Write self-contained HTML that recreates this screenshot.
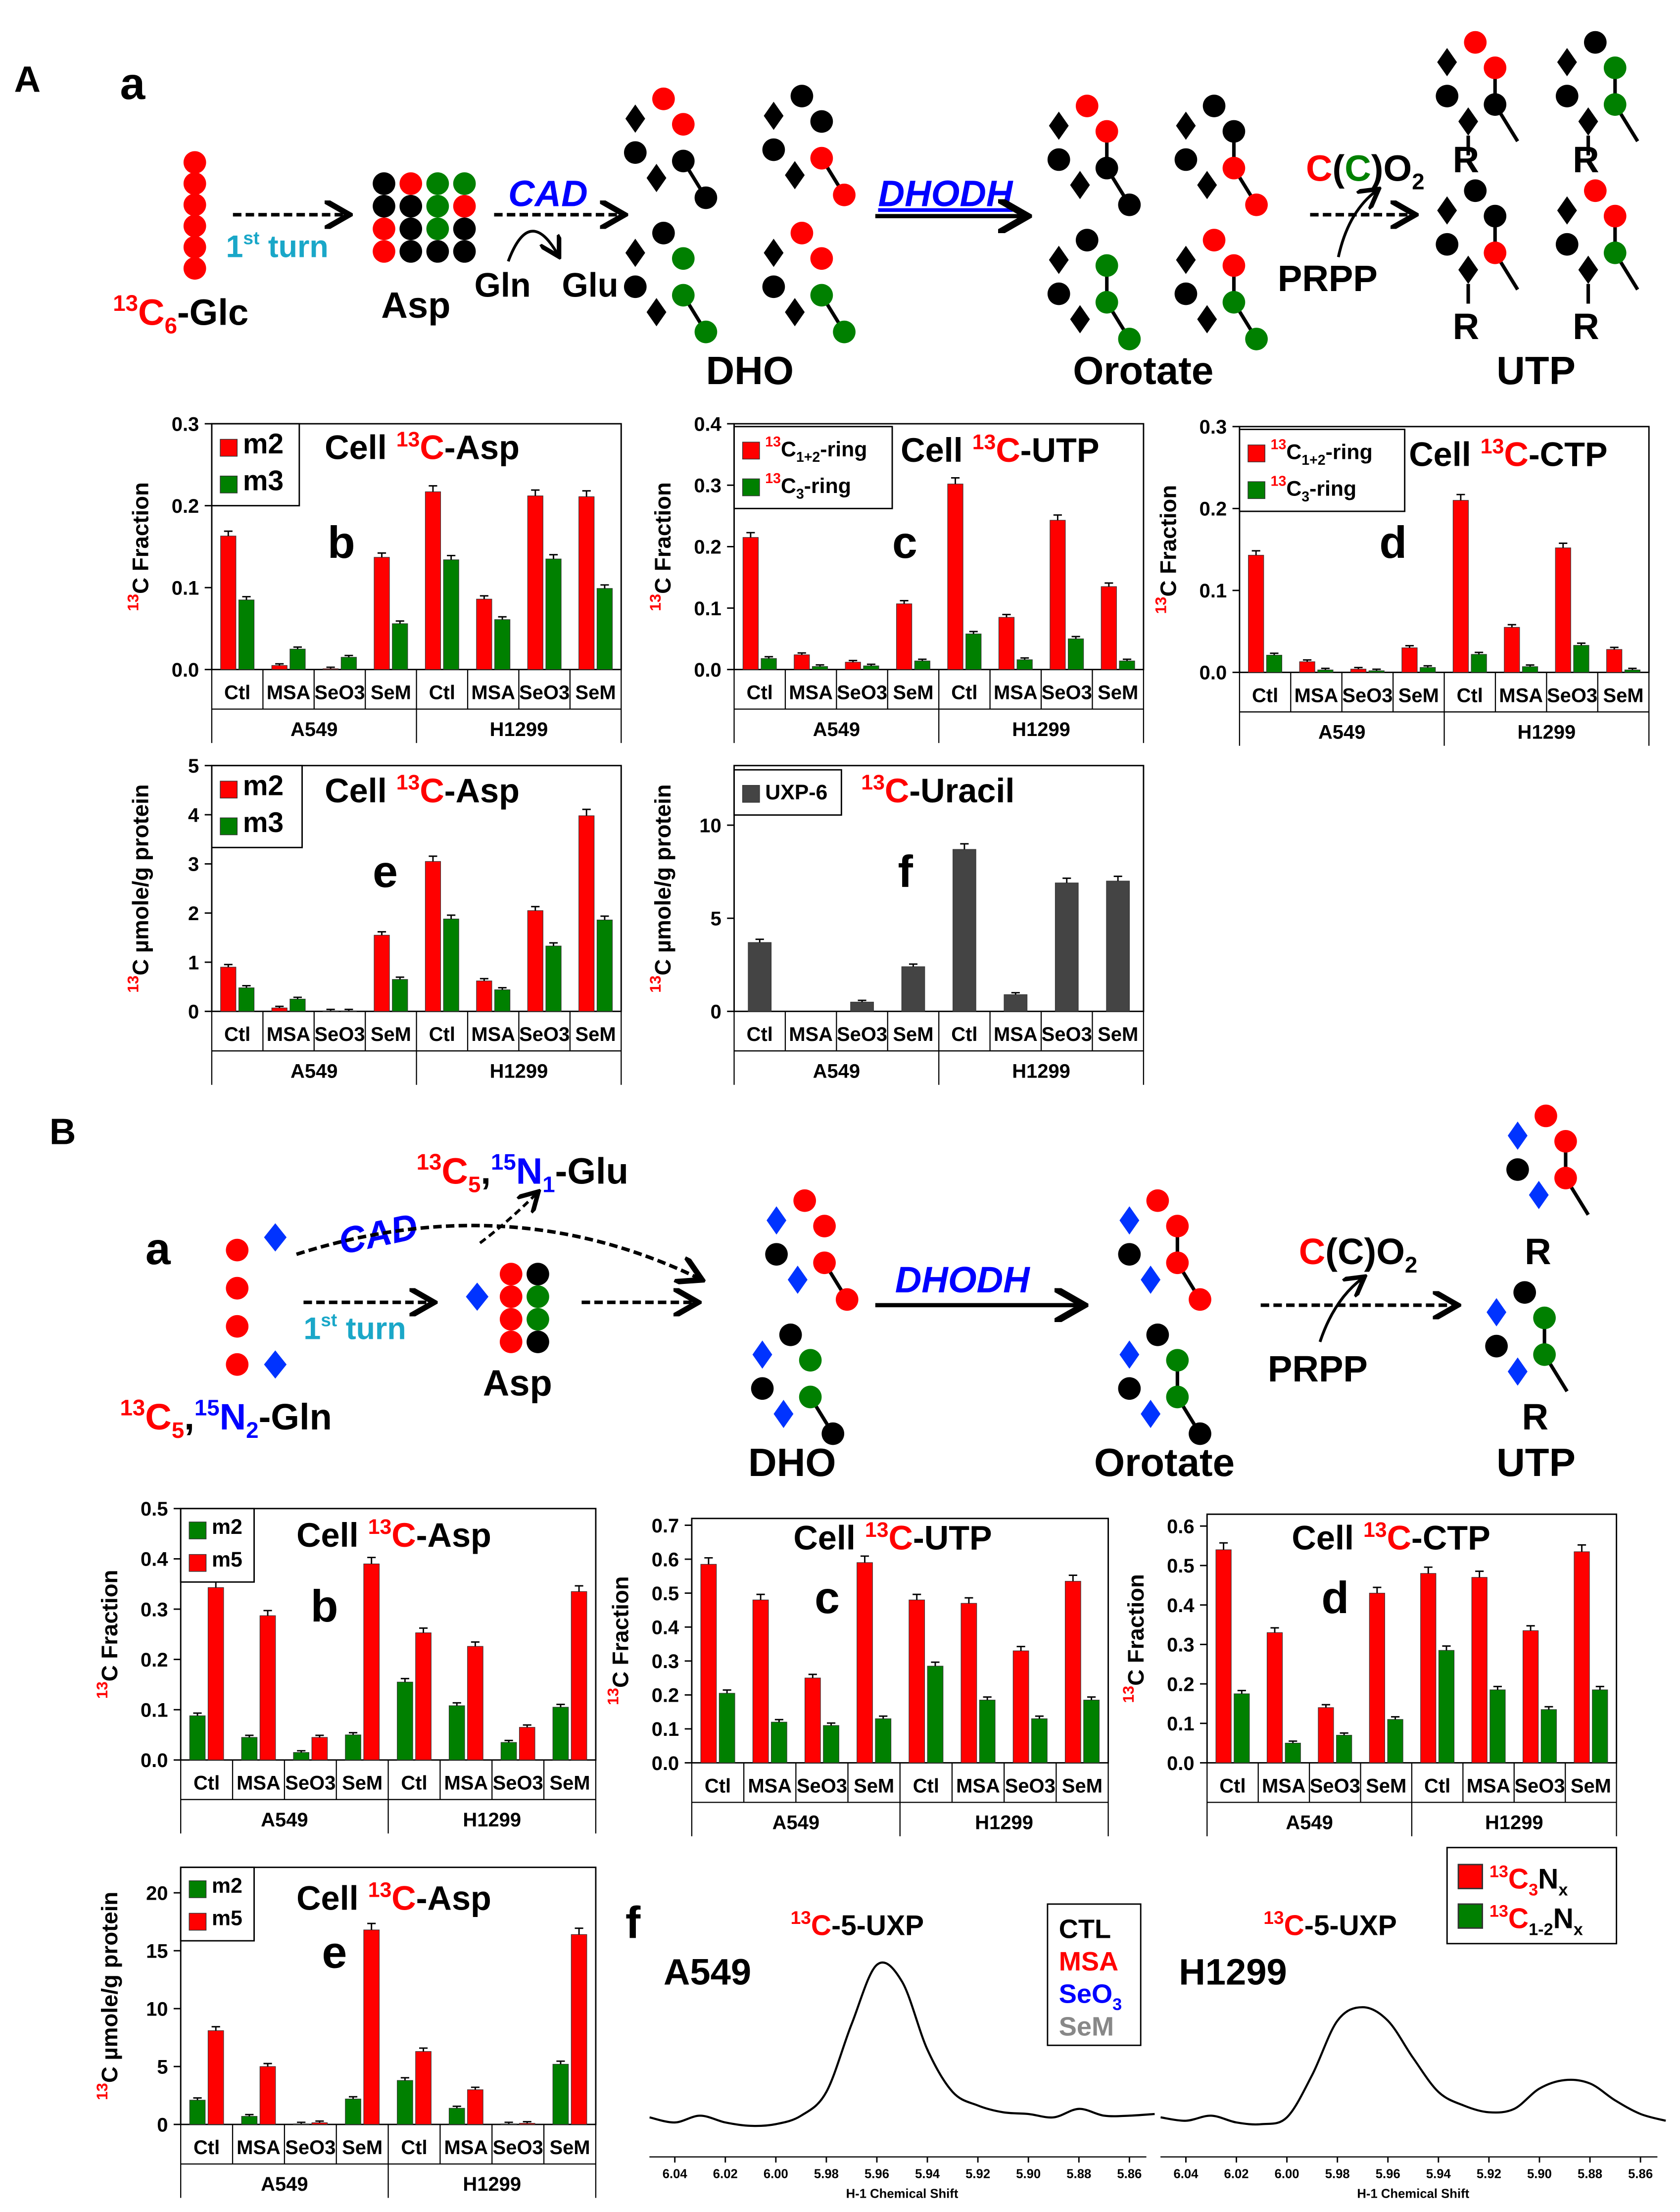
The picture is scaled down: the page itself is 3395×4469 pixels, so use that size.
<!DOCTYPE html>
<html><head><meta charset="utf-8">
<style>
html,body{margin:0;padding:0;background:#fff;}
svg{display:block;font-family:"Liberation Sans",Arial,sans-serif;font-weight:bold;}
</style></head>
<body>
<svg id="fig" width="3395" height="4469" viewBox="0 0 1190 1566" preserveAspectRatio="none" xmlns="http://www.w3.org/2000/svg">
<defs>
<marker id="ah" markerWidth="8" markerHeight="8" refX="6" refY="4" orient="auto"><path d="M0,0 L7,4 L0,8" fill="none" stroke="#000" stroke-width="1.6"/></marker>
</defs>
<g id="diagA">
<text x="10" y="65" font-size="26">A</text>
<text x="85" y="70" font-size="32">a</text>
<text x="80" y="230" font-size="26"><tspan fill="red" font-size="16" dy="-10">13</tspan><tspan fill="red" dy="10">C</tspan><tspan fill="red" font-size="16" dy="6">6</tspan><tspan dy="-6">-Glc</tspan></text>
<text x="270" y="225" font-size="26">Asp</text>
<text x="336" y="210" font-size="24">Gln</text>
<text x="398" y="210" font-size="24">Glu</text>
<text x="360" y="146" font-size="26" fill="#0000ff" font-style="italic">CAD</text>
<text x="622" y="146" font-size="26" fill="#0000ff" font-style="italic" text-decoration="underline">DHODH</text>
<text x="160" y="182" font-size="22" fill="#1aa7c8">1<tspan font-size="13" dy="-9">st</tspan><tspan dy="9"> turn</tspan></text>
<text x="500" y="272" font-size="28">DHO</text>
<text x="760" y="272" font-size="28">Orotate</text>
<text x="1060" y="272" font-size="28">UTP</text>
<text x="925" y="128" font-size="26"><tspan fill="red">C</tspan>(<tspan fill="green">C</tspan>)O<tspan font-size="16" dy="6">2</tspan></text>
<text x="905" y="206" font-size="26">PRPP</text>
<line x1="165" y1="152" x2="245" y2="152" stroke="#000" stroke-width="2.5" stroke-dasharray="6,3" marker-end="url(#ah)"/>
<line x1="350" y1="152" x2="440" y2="152" stroke="#000" stroke-width="2.5" stroke-dasharray="6,3" marker-end="url(#ah)"/>
<path d="M360,185 Q375,145 395,180" fill="none" stroke="#000" stroke-width="2" marker-end="url(#ah)"/>
<line x1="620" y1="153" x2="725" y2="153" stroke="#000" stroke-width="3" marker-end="url(#ah)"/>
<line x1="928" y1="152" x2="1000" y2="152" stroke="#000" stroke-width="2.5" stroke-dasharray="6,3" marker-end="url(#ah)"/>
<path d="M948,182 Q955,150 975,135" fill="none" stroke="#000" stroke-width="2" marker-end="url(#ah)"/>
</g>
<g id="diagB">
<text x="35" y="810" font-size="26">B</text>
<text x="103" y="895" font-size="32">a</text>
<text x="85" y="1012" font-size="26"><tspan fill="red" font-size="16" dy="-10">13</tspan><tspan fill="red" dy="10">C</tspan><tspan fill="red" font-size="16" dy="6">5</tspan><tspan dy="-6">,</tspan><tspan fill="#0000ff" font-size="16" dy="-10">15</tspan><tspan fill="#0000ff" dy="10">N</tspan><tspan fill="#0000ff" font-size="16" dy="6">2</tspan><tspan dy="-6">-Gln</tspan></text>
<text x="295" y="838" font-size="26"><tspan fill="red" font-size="16" dy="-10">13</tspan><tspan fill="red" dy="10">C</tspan><tspan fill="red" font-size="16" dy="6">5</tspan><tspan dy="-6">,</tspan><tspan fill="#0000ff" font-size="16" dy="-10">15</tspan><tspan fill="#0000ff" dy="10">N</tspan><tspan fill="#0000ff" font-size="16" dy="6">1</tspan><tspan dy="-6">-Glu</tspan></text>
<text x="240" y="882" font-size="26" fill="#0000ff" font-style="italic" transform="rotate(-12 270 875)">CAD</text>
<text x="215" y="948" font-size="22" fill="#1aa7c8">1<tspan font-size="13" dy="-9">st</tspan><tspan dy="9"> turn</tspan></text>
<text x="342" y="988" font-size="26">Asp</text>
<text x="530" y="1045" font-size="28">DHO</text>
<text x="775" y="1045" font-size="28">Orotate</text>
<text x="1060" y="1045" font-size="28">UTP</text>
<text x="634" y="915" font-size="26" fill="#0000ff" font-style="italic">DHODH</text>
<text x="920" y="895" font-size="26"><tspan fill="red">C</tspan>(C)O<tspan font-size="16" dy="6">2</tspan></text>
<text x="898" y="978" font-size="26">PRPP</text>
<line x1="215" y1="922" x2="305" y2="922" stroke="#000" stroke-width="2.5" stroke-dasharray="6,3" marker-end="url(#ah)"/>
<line x1="412" y1="922" x2="492" y2="922" stroke="#000" stroke-width="2.5" stroke-dasharray="6,3" marker-end="url(#ah)"/>
<path d="M210,888 Q360,840 495,905" fill="none" stroke="#000" stroke-width="2.5" stroke-dasharray="6,3" marker-end="url(#ah)"/>
<path d="M340,880 Q360,865 380,845" fill="none" stroke="#000" stroke-width="2" stroke-dasharray="5,3" marker-end="url(#ah)"/>
<line x1="620" y1="924" x2="765" y2="924" stroke="#000" stroke-width="3" marker-end="url(#ah)"/>
<line x1="893" y1="924" x2="1030" y2="924" stroke="#000" stroke-width="2.5" stroke-dasharray="6,3" marker-end="url(#ah)"/>
<path d="M935,950 Q945,920 965,905" fill="none" stroke="#000" stroke-width="2" marker-end="url(#ah)"/>
</g>
<g id="charts"></g>
</svg>
<script>
// ---------- chart data ----------
const categories = ["Ctl","MSA","SeO3","SeM","Ctl","MSA","SeO3","SeM"];
const groups = ["A549","H1299"];
const Ab_m2 = [0.163,0.005,0.001,0.137,0.217,0.086,0.212,0.211];
const Ab_m3 = [0.085,0.025,0.015,0.056,0.134,0.061,0.135,0.099];
const Ab_ticks = [0,0.1,0.2,0.3];
const Ac_ring12 = [0.215,0.024,0.012,0.107,0.302,0.085,0.243,0.135];
const Ac_ring3 = [0.018,0.005,0.006,0.014,0.058,0.016,0.05,0.014];
const Ac_ticks = [0,0.1,0.2,0.3,0.4];
const Ad_ring12 = [0.143,0.013,0.004,0.03,0.21,0.055,0.152,0.028];
const Ad_ring3 = [0.021,0.003,0.002,0.006,0.022,0.007,0.033,0.003];
const Ad_ticks = [0,0.1,0.2,0.3];
const Ae_m2 = [0.9,0.07,0.01,1.55,3.05,0.62,2.05,3.98];
const Ae_m3 = [0.48,0.25,0.01,0.65,1.88,0.44,1.33,1.86];
const Ae_ticks = [0,1,2,3,4,5];
const Af_uxp = [3.7,0,0.5,2.4,8.7,0.9,6.9,7.0];
const Af_ticks = [0,5,10];
const Bb_m2 = [0.088,0.045,0.015,0.05,0.155,0.108,0.035,0.105];
const Bb_m5 = [0.343,0.287,0.045,0.39,0.253,0.226,0.065,0.335];
const Bb_ticks = [0,0.1,0.2,0.3,0.4,0.5];
const Bc_red = [0.585,0.48,0.25,0.59,0.48,0.47,0.33,0.535];
const Bc_green = [0.205,0.12,0.11,0.13,0.285,0.185,0.13,0.185];
const Bc_ticks = [0,0.1,0.2,0.3,0.4,0.5,0.6,0.7];
const Bd_red = [0.54,0.33,0.14,0.43,0.48,0.47,0.335,0.535];
const Bd_green = [0.175,0.05,0.07,0.11,0.285,0.185,0.135,0.185];
const Bd_ticks = [0,0.1,0.2,0.3,0.4,0.5,0.6];
const Be_m2 = [2.1,0.7,0.05,2.2,3.8,1.4,0.05,5.2];
const Be_m5 = [8.1,5.0,0.15,16.8,6.3,3.0,0.1,16.4];
const Be_ticks = [0,5,10,15,20];
const ppm_ticks = [6.04,6.02,6.00,5.98,5.96,5.94,5.92,5.90,5.88,5.86];
const spec_ppm = [6.05,6.04,6.03,6.02,6.01,6.00,5.99,5.98,5.97,5.96,5.95,5.94,5.93,5.92,5.91,5.90,5.89,5.88,5.87,5.86,5.85];
const specA_int = [0.05,0.02,0.06,0.02,0.0,0.01,0.06,0.2,0.6,0.95,0.85,0.45,0.2,0.12,0.08,0.07,0.05,0.1,0.06,0.06,0.07];
const specH_int = [0.05,0.03,0.06,0.02,0.01,0.05,0.3,0.62,0.7,0.62,0.4,0.2,0.12,0.08,0.1,0.22,0.27,0.25,0.15,0.07,0.03];

const NS="http://www.w3.org/2000/svg";
const root=document.getElementById('charts');
function mk(tag,attrs,parent,txt){const e=document.createElementNS(NS,tag);for(const k in attrs)e.setAttribute(k,attrs[k]);if(txt!==undefined)e.textContent=txt;(parent||root).appendChild(e);return e;}

function barChart(c){
  const g=mk('g',{});
  
  
  const {x0,x1,y0,y1,max}=c;
  const ys=v=>y1-(v/max)*(y1-y0);
  const box=mk('rect',{x:x0,y:y0,width:x1-x0,height:y1-y0,fill:'none',stroke:'#000','stroke-width':1},g);
  
  
  c.ticks.forEach(t=>{
    const y=ys(t);
    mk('line',{x1:x0-5,x2:x0,y1:y,y2:y,stroke:'#000'},g);
    const tl=mk('text',{x:x0-9,y:y+5,'font-size':14,'text-anchor':'end'},g,c.fmt(t));
    
    
  });
  const n=categories.length,cw=(x1-x0)/n;
  const yt=mk('text',{x:0,y:0,'font-size':16,'text-anchor':'middle',transform:`translate(${x0-45},${(y0+y1)/2}) rotate(-90)`},g);
  yt.innerHTML=c.ytitle;
  
  
  const bw=c.series.length===1?cw*0.45:cw*0.3;
  categories.forEach((cat,i)=>{
    const cx=x0+cw*(i+0.5);
    c.series.forEach((s,k)=>{
      const off=c.series.length===1?-bw/2:(k===0?-bw-1:1);
      const v=s.data[i];
      const r=mk('rect',{x:cx+off,y:ys(v),width:bw,height:y1-ys(v),fill:s.color,stroke:'#333','stroke-width':0.4},g);
      
      
      if(v>0){const e=v*0.025+max*0.006;const ex=cx+off+bw/2;
        mk('line',{x1:ex,x2:ex,y1:ys(v),y2:ys(v+e),stroke:'#000','stroke-width':1},g);
        mk('line',{x1:ex-3,x2:ex+3,y1:ys(v+e),y2:ys(v+e),stroke:'#000','stroke-width':1},g);}
    });
    const cl=mk('text',{x:cx,y:y1+21,'font-size':14,'text-anchor':'middle'},g,cat);
    
    
    if(i>0) mk('line',{x1:x0+cw*i,x2:x0+cw*i,y1:y1,y2:y1+(i===4?52:28),stroke:'#000','stroke-width':0.8},g);
  });
  mk('line',{x1:x0,x2:x0,y1:y1,y2:y1+52,stroke:'#000','stroke-width':0.8},g);
  mk('line',{x1:x1,x2:x1,y1:y1,y2:y1+52,stroke:'#000','stroke-width':0.8},g);
  mk('line',{x1:x0,x2:x1,y1:y1+28,y2:y1+28,stroke:'#000','stroke-width':0.8},g);
  groups.forEach((gr,j)=>{const t=mk('text',{x:x0+cw*(2+4*j),y:y1+47,'font-size':14,'text-anchor':'middle'},g,gr);
    
    });
  const tt=mk('text',{x:c.tx,y:c.ty,'font-size':24,'text-anchor':'start'},g);
  tt.innerHTML=c.title;
  
  
  const pl=mk('text',{x:c.px,y:c.py,'font-size':32},g,c.panel);
  
  
  const lg=mk('g',{},g);
  
  
  const rh=c.lrh||26;
  mk('rect',{x:c.lx,y:c.ly,width:c.lw,height:c.series.length*rh+6,fill:'#fff',stroke:'#000'},lg);
  c.series.forEach((s,k)=>{
    mk('rect',{x:c.lx+6,y:c.ly+6+k*rh+(rh-12)/2-2,width:12,height:12,fill:s.color,stroke:'#333','stroke-width':0.5},lg);
    const t=mk('text',{x:c.lx+22,y:c.ly+rh-5+k*rh,'font-size':c.lfs||20},lg);
    t.innerHTML=s.label;
  });
}
const f1=t=>t.toFixed(1), f0=t=>String(t);
const ttl=(iso)=>`Cell <tspan fill="red" font-size="15" dy="-9">13</tspan><tspan fill="red" dy="9">C</tspan>-${iso}`;
const yfr='<tspan fill="red" font-size="11" dy="-7">13</tspan><tspan dy="7">C Fraction</tspan>';
const yum='<tspan fill="red" font-size="11" dy="-7">13</tspan><tspan dy="7">C µmole/g protein</tspan>';
const r12='<tspan fill="red" font-size="10" dy="-7">13</tspan><tspan dy="7" font-size="15">C</tspan><tspan font-size="10" dy="4">1+2</tspan><tspan dy="-4" font-size="15">-ring</tspan>';
const r3='<tspan fill="red" font-size="10" dy="-7">13</tspan><tspan dy="7" font-size="15">C</tspan><tspan font-size="10" dy="4">3</tspan><tspan dy="-4" font-size="15">-ring</tspan>';
const RED='#ff0000',GRN='#008000',GRY='#444';
barChart({name:'chart-A-b',x0:150,x1:440,y0:300,y1:474,max:0.3,ticks:Ab_ticks,fmt:f1,ytitle:yfr,series:[{key:'m2',data:Ab_m2,color:RED,label:'m2'},{key:'m3',data:Ab_m3,color:GRN,label:'m3'}],title:ttl('Asp'),tx:230,ty:325,panel:'b',px:232,py:395,lx:150,ly:300,lw:62});
barChart({name:'chart-A-c',x0:520,x1:810,y0:300,y1:474,max:0.4,ticks:Ac_ticks,fmt:f1,ytitle:yfr,series:[{key:'ring12',data:Ac_ring12,color:RED,label:r12},{key:'ring3',data:Ac_ring3,color:GRN,label:r3}],title:ttl('UTP'),tx:638,ty:327,panel:'c',px:632,py:395,lx:520,ly:302,lw:112,lfs:15});
barChart({name:'chart-A-d',x0:878,x1:1168,y0:302,y1:476,max:0.3,ticks:Ad_ticks,fmt:f1,ytitle:yfr,series:[{key:'ring12',data:Ad_ring12,color:RED,label:r12},{key:'ring3',data:Ad_ring3,color:GRN,label:r3}],title:ttl('CTP'),tx:998,ty:330,panel:'d',px:977,py:395,lx:878,ly:304,lw:117,lfs:15});
barChart({name:'chart-A-e',x0:150,x1:440,y0:542,y1:716,max:5,ticks:Ae_ticks,fmt:f0,ytitle:yum,series:[{key:'m2',data:Ae_m2,color:RED,label:'m2'},{key:'m3',data:Ae_m3,color:GRN,label:'m3'}],title:ttl('Asp'),tx:230,ty:568,panel:'e',px:264,py:628,lx:150,ly:542,lw:64});
barChart({name:'chart-A-f',x0:520,x1:810,y0:542,y1:716,max:13.2,ticks:Af_ticks,fmt:f0,ytitle:yum,series:[{key:'uxp6',data:Af_uxp,color:GRY,label:'<tspan font-size="15">UXP-6</tspan>'}],title:'<tspan fill="red" font-size="15" dy="-9">13</tspan><tspan fill="red" dy="9">C</tspan>-Uracil',tx:610,ty:568,panel:'f',px:636,py:628,lx:520,ly:545,lw:76});
barChart({name:'chart-B-b',x0:128,x1:422,y0:1068,y1:1246,max:0.5,ticks:Bb_ticks,fmt:f1,ytitle:yfr,series:[{key:'m2',data:Bb_m2,color:GRN,label:'<tspan font-size="15">m2</tspan>'},{key:'m5',data:Bb_m5,color:RED,label:'<tspan font-size="15">m5</tspan>'}],title:ttl('Asp'),tx:210,ty:1095,panel:'b',px:220,py:1148,lx:128,ly:1068,lw:52,lrh:23});
barChart({name:'chart-B-c',x0:490,x1:785,y0:1075,y1:1248,max:0.72,ticks:Bc_ticks,fmt:f1,ytitle:yfr,series:[{key:'red',data:Bc_red,color:RED,label:''},{key:'green',data:Bc_green,color:GRN,label:''}],title:ttl('UTP'),tx:562,ty:1097,panel:'c',px:577,py:1142,lx:-500,ly:0,lw:1});
barChart({name:'chart-B-d',x0:855,x1:1145,y0:1072,y1:1248,max:0.63,ticks:Bd_ticks,fmt:f1,ytitle:yfr,series:[{key:'red',data:Bd_red,color:RED,label:''},{key:'green',data:Bd_green,color:GRN,label:''}],title:ttl('CTP'),tx:915,ty:1097,panel:'d',px:936,py:1142,lx:-500,ly:0,lw:1});
barChart({name:'chart-B-e',x0:128,x1:422,y0:1322,y1:1504,max:22.2,ticks:Be_ticks,fmt:f0,ytitle:yum,series:[{key:'m2',data:Be_m2,color:GRN,label:'<tspan font-size="15">m2</tspan>'},{key:'m5',data:Be_m5,color:RED,label:'<tspan font-size="15">m5</tspan>'}],title:ttl('Asp'),tx:210,ty:1352,panel:'e',px:228,py:1393,lx:128,ly:1322,lw:52,lrh:23});

// spectra
function spectrum(name,xa,xb,ints,label,lx,tx){
  const g=mk('g',{});
  
  
  const xs=p=>xa+(6.04-p)/0.18*(xb-xa);
  const ys=v=>1505-v*120;
  const P=spec_ppm.map((p,i)=>[xs(p),ys(ints[i])]);
  let d='M'+P[0][0]+','+P[0][1];
  for(let i=0;i<P.length-1;i++){
    const p0=P[Math.max(0,i-1)],p1=P[i],p2=P[i+1],p3=P[Math.min(P.length-1,i+2)];
    const c1=[p1[0]+(p2[0]-p0[0])/6,p1[1]+(p2[1]-p0[1])/6],c2=[p2[0]-(p3[0]-p1[0])/6,p2[1]-(p3[1]-p1[1])/6];
    d+=` C${c1[0]},${c1[1]} ${c2[0]},${c2[1]} ${p2[0]},${p2[1]}`;
  }
  const pl=mk('path',{d:d,fill:'none',stroke:'#000','stroke-width':1.5},g);
  
  
  mk('line',{x1:xa-18,x2:xb+12,y1:1527,y2:1527,stroke:'#000','stroke-width':0.8},g);
  ppm_ticks.forEach(p=>{mk('line',{x1:xs(p),x2:xs(p),y1:1527,y2:1531,stroke:'#000'},g);
    const t=mk('text',{x:xs(p),y:1542,'font-size':9,'text-anchor':'middle'},g,p.toFixed(2));
    
    });
  const at=mk('text',{x:(xa+xb)/2,y:1556,'font-size':9,'text-anchor':'middle'},g,'H-1 Chemical Shift');
  
  
  const cl=mk('text',{x:lx,y:1405,'font-size':26},g,label);
  
  
  const tt=mk('text',{x:tx,y:1370,'font-size':20},g);
  tt.innerHTML='<tspan fill="red" font-size="13" dy="-8">13</tspan><tspan fill="red" dy="8">C</tspan>-5-UXP';
  
  
}
spectrum('spectrum-a549',478,800,specA_int,'A549',470,560);
spectrum('spectrum-h1299',840,1162,specH_int,'H1299',835,895);
mk('text',{x:443,y:1372,'font-size':32},root,'f');
// legends for B-f
const l1=mk('g',{});
mk('rect',{x:742,y:1348,width:66,height:100,fill:'#fff',stroke:'#000'},l1);
[['CTL','#000'],['MSA','#f00'],['SeO','#00f'],['SeM','#888']].forEach((d,i)=>{const t=mk('text',{x:750,y:1372+i*23,'font-size':19,fill:d[1]},l1,d[0]);if(i==2){const s=mk('tspan',{'font-size':12,dy:5},t,'3');}});
const l2=mk('g',{});
mk('rect',{x:1025,y:1308,width:120,height:68,fill:'#fff',stroke:'#000'},l2);
mk('rect',{x:1033,y:1320,width:17,height:17,fill:RED,stroke:'#333'},l2);
mk('rect',{x:1033,y:1348,width:17,height:17,fill:GRN,stroke:'#333'},l2);
mk('text',{x:1055,y:1337,'font-size':20},l2).innerHTML='<tspan fill="red" font-size="12" dy="-8">13</tspan><tspan fill="red" dy="8">C</tspan><tspan fill="red" font-size="12" dy="5">3</tspan><tspan dy="-5">N</tspan><tspan font-size="12" dy="5">x</tspan>';
mk('text',{x:1055,y:1365,'font-size':20},l2).innerHTML='<tspan fill="red" font-size="12" dy="-8">13</tspan><tspan fill="red" dy="8">C</tspan><tspan font-size="12" dy="5">1-2</tspan><tspan dy="-5">N</tspan><tspan font-size="12" dy="5">x</tspan>';

// molecule rings
function ring(cx,cy,col,name,bluen){
  const g=mk('g',{});
  
  
  const D=bluen?'#0033ff':'#000';
  mk('line',{x1:cx+14,y1:cy+14,x2:cx+30,y2:cy+40,stroke:'#000','stroke-width':2.5},g);
  if(col.dbl) mk('line',{x1:cx+14,y1:cy-12,x2:cx+14,y2:cy+14,stroke:'#000','stroke-width':2.5},g);
  const pos=[[0,-30],[14,-12],[14,14],[30,40],[-20,8]];
  pos.forEach((p,i)=>mk('circle',{cx:cx+p[0],cy:cy+p[1],r:8,fill:col.c[i]},g));
  [[-20,-16],[-5,26]].forEach(p=>mk('path',{d:`M${cx+p[0]},${cy+p[1]-10} l7,10 l-7,10 l-7,-10z`,fill:D},g));
}
const K='#000',R='#f00',G='#008000';
ring(470,100,{c:[R,R,K,K,K]},'dho-ring-1');ring(568,98,{c:[K,K,R,R,K]},'dho-ring-2');
ring(470,195,{c:[K,G,G,G,K]},'dho-ring-3');ring(568,195,{c:[R,R,G,G,K]},'dho-ring-4');
ring(770,105,{c:[R,R,K,K,K],dbl:1},'orotate-ring-1');ring(860,105,{c:[K,K,R,R,K],dbl:1},'orotate-ring-2');
ring(770,200,{c:[K,G,G,G,K],dbl:1},'orotate-ring-3');ring(860,200,{c:[R,R,G,G,K],dbl:1},'orotate-ring-4');
[[1045,60,[R,R,K,'none',K]],[1130,60,[K,G,G,'none',K]],[1045,165,[K,K,R,'none',K]],[1130,165,[R,R,G,'none',K]]].forEach((d,i)=>{ring(d[0],d[1],{c:d[2],dbl:1},'utp-ring-'+i);
  mk('line',{x1:d[0]-5,y1:d[1]+36,x2:d[0]-5,y2:d[1]+50,stroke:'#000','stroke-width':2.5});
  mk('text',{x:d[0]-16,y:d[1]+(i<2?62:75),'font-size':26},root,'R');});
// glucose and asp
[0,1,2,3,4,5].forEach(i=>mk('circle',{cx:138,cy:115+i*15,r:8,fill:R}));
[[K,R,G,G],[K,K,G,R],[R,K,G,K],[R,K,K,K]].forEach((row,j)=>row.forEach((c,i)=>mk('circle',{cx:272+i*19,cy:130+j*16,r:8,fill:c})));
// B diagram rings
[0,1,2,3].forEach(i=>mk('circle',{cx:168,cy:885+i*27,r:8,fill:R}));
mk('path',{d:'M195,866 l8,10 l-8,10 l-8,-10z',fill:'#0033ff'});mk('path',{d:'M195,956 l8,10 l-8,10 l-8,-10z',fill:'#0033ff'});
[[R,K],[R,G],[R,G],[R,K]].forEach((row,j)=>row.forEach((c,i)=>mk('circle',{cx:362+i*19,cy:902+j*16,r:8,fill:c})));
mk('path',{d:'M338,908 l8,10 l-8,10 l-8,-10z',fill:'#0033ff'});
ring(570,880,{c:[R,R,R,R,K]},'dho-b-ring-1',1);ring(560,975,{c:[K,G,G,K,K]},'dho-b-ring-2',1);
ring(820,880,{c:[R,R,R,R,K],dbl:1},'orotate-b-ring-1',1);ring(820,975,{c:[K,G,G,K,K],dbl:1},'orotate-b-ring-2',1);
ring(1095,820,{c:[R,R,R,'none',K],dbl:1},'utp-b-ring-1',1);ring(1080,945,{c:[K,G,G,'none',K],dbl:1},'utp-b-ring-2',1);
mk('text',{x:1080,y:895,'font-size':26},root,'R');mk('text',{x:1078,y:1012,'font-size':26},root,'R');
</script>
</body></html>
